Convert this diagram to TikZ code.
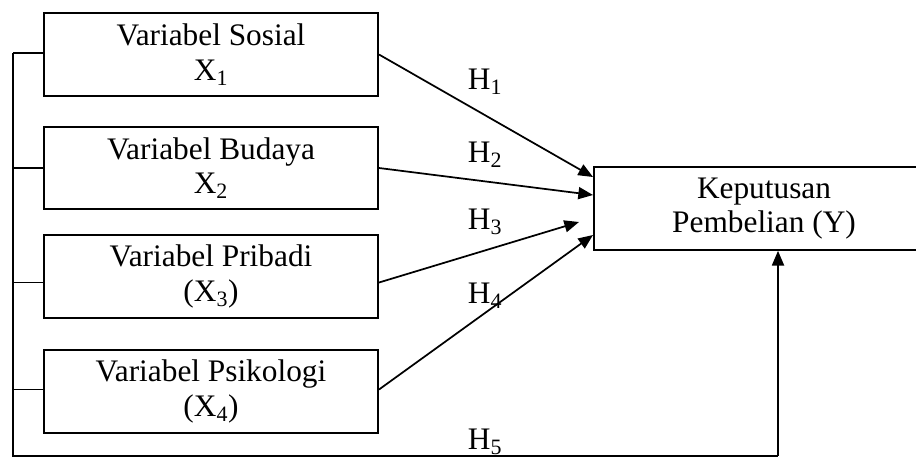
\documentclass[tikz,border=0pt]{standalone}
\usepackage{fontspec}
\setmainfont{Liberation Serif}
\usetikzlibrary{arrows.meta,calc}
\begin{document}
\begin{tikzpicture}[x=0.75pt,y=-0.75pt,
  every node/.style={font=\fontsize{23.5}{26}\selectfont},
  varbox/.style={draw,line width=1.5pt,minimum width=250.5pt,minimum height=62pt,align=center,inner sep=0pt},
  ybox/.style={draw,line width=1.5pt,minimum width=255pt,minimum height=62pt,align=center,inner sep=0pt},
  conn/.style={line width=1.3pt},
  arr/.style={line width=1.3pt,-{Triangle[length=11pt,width=9pt]}},
  hlab/.style={inner sep=0pt}]
\useasboundingbox (0,0) rectangle (916,458);
\node[varbox] (x1) at (211,54.5) {Variabel Sosial\\X\textsubscript{1}};
\node[varbox] (x2) at (211,168) {Variabel Budaya\\X\textsubscript{2}};
\node[varbox] (x3) at (211,276.5) {Variabel Pribadi\\(X\textsubscript{3})};
\node[varbox] (x4) at (211,391.5) {Variabel Psikologi\\(X\textsubscript{4})};
\node[ybox] (y) at (764,208.5) {Keputusan\\Pembelian (Y)};
% arrow end points
\coordinate (e1) at (y.west |- 0,177);
\coordinate (e2) at (y.west |- 0,195);
\coordinate (e3) at (579,222);
\coordinate (e4) at (y.west |- 0,235);
\coordinate (lt) at (13,53);
\coordinate (lb) at (13,456);
\coordinate (rb) at (778,456);
\draw[arr] (x1.east) -- (e1);
\draw[arr] (x2.east) -- (e2);
\draw[arr] ($(x3.east)+(0,6)$) -- (e3);
\draw[arr] ($(x4.east)+(0,-2)$) -- (e4);
\draw[conn] (lt) -- (lb) -- (rb);
\draw[arr] (rb) -- (rb |- y.south);
\draw[conn] (lt) -- (lt -| x1.west);
\draw[conn] (lt |- x2.west) -- (x2.west);
\draw[conn] ($(lt |- x3.west)+(0,6)$) -- ($(x3.west)+(0,6)$);
\draw[conn] ($(lt |- x4.west)+(0,-2)$) -- ($(x4.west)+(0,-2)$);
\node[hlab] (h1) at (485,82) {H\textsubscript{1}};
\node[hlab] (h2) at (485,155) {H\textsubscript{2}};
\node[hlab] (h3) at (485,222) {H\textsubscript{3}};
\node[hlab] (h4) at (485,296) {H\textsubscript{4}};
\node[hlab] (h5) at (485,442) {H\textsubscript{5}};
\end{tikzpicture}
\end{document}
